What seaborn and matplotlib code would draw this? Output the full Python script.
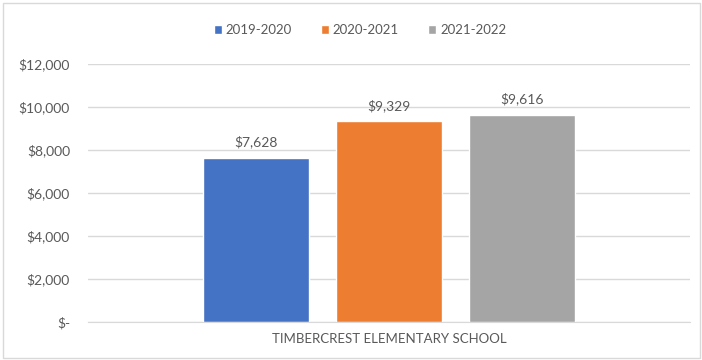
import matplotlib
matplotlib.use("Agg")
import matplotlib.pyplot as plt
import pandas as pd
import seaborn as sns
from matplotlib.patches import Rectangle

school = ["TIMBERCREST ELEMENTARY SCHOOL"]
years = ["2019-2020", "2020-2021", "2021-2022"]
spending = [7628, 9329, 9616]
colors = ["#4472c4", "#ed7d31", "#a5a5a5"]
yticks = [0, 2000, 4000, 6000, 8000, 10000, 12000]
ytick_labels = ["$-", "$2,000", "$4,000", "$6,000", "$8,000", "$10,000", "$12,000"]

df = pd.DataFrame({"school": school * len(years), "year": years, "value": spending})

sns.set_style("white")
plt.rcParams["font.family"] = ["Lato", "DejaVu Sans"]
txt = "#595959"

fig = plt.figure(figsize=(7.02, 3.6), dpi=100)
ax = fig.add_axes([88 / 702, 1 - 322 / 360, 602 / 702, (322 - 64) / 360])

sns.barplot(data=df, x="school", y="value", hue="year", palette=colors,
            width=0.8, gap=0.21, ax=ax, legend=True, saturation=1)

ax.set_ylim(0, 12000)
ax.set_xlim(-0.6035, 0.6035)
ax.set_yticks(yticks)
ax.set_yticklabels(ytick_labels, color=txt, fontsize=10)
ax.tick_params(axis="y", length=0, pad=13)
ax.tick_params(axis="x", length=0, pad=8, labelsize=9.5, labelcolor=txt)
ax.set_xlabel("")
ax.set_ylabel("")
ax.grid(axis="y", color="#d9d9d9", linewidth=1)
ax.set_axisbelow(True)
for s in ["left", "right", "top"]:
    ax.spines[s].set_visible(False)
ax.spines["bottom"].set_color("#d9d9d9")

# value labels over the bars
for cont in ax.containers:
    ax.bar_label(cont, labels=[f"${v:,.0f}" for v in cont.datavalues],
                 padding=7, color=txt, fontsize=10)

handles, labels = ax.get_legend_handles_labels()
ax.legend(handles, labels, loc="center", bbox_to_anchor=(360 / 702, 1 - 30 / 360),
          bbox_transform=fig.transFigure, ncol=3, frameon=False, fontsize=9.5,
          handlelength=0.6, handleheight=0.6, handletextpad=0.3, columnspacing=2.2,
          labelcolor=txt)

fig.patches.append(Rectangle((3 / 702, 2 / 360), 697 / 702, 355 / 360, transform=fig.transFigure,
                             fill=False, edgecolor="#d9d9d9", linewidth=1))

fig.savefig("out.png", dpi=100)
